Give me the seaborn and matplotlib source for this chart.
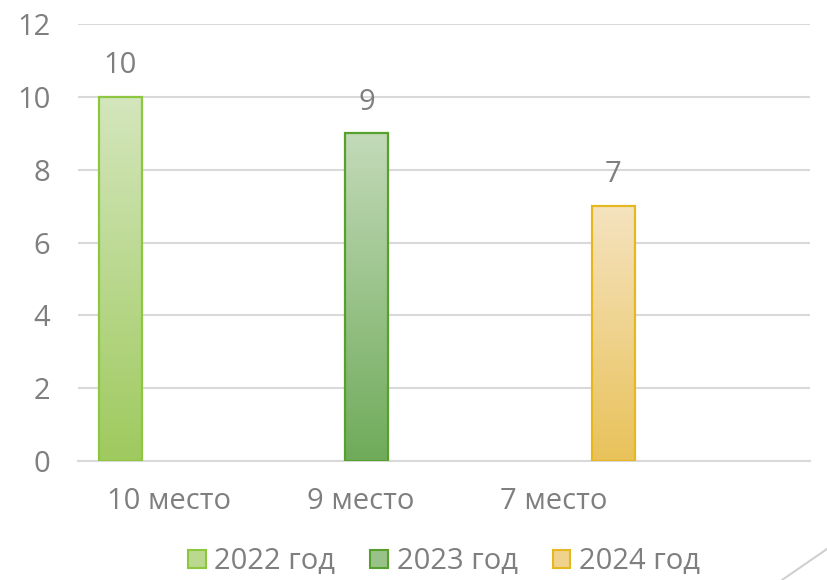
import matplotlib
matplotlib.use("Agg")
import matplotlib.pyplot as plt
import matplotlib.colors as mcolors
from matplotlib.patches import Patch
from matplotlib.lines import Line2D
import numpy as np
import pandas as pd
import seaborn as sns

places = ["10 место", "9 место", "7 место"]
years = ["2022 год", "2023 год", "2024 год"]
values = [10, 9, 7]

# gradient colours: top, bottom, edge
tops = ["#d4e6bd", "#c3dab9", "#f5e3bf"]
bottoms = ["#9fca5e", "#6fab5a", "#e9c25a"]
edges = ["#8dc63f", "#56a02b", "#e6b820"]

df = pd.DataFrame({"place": places, "year": years, "value": values})

sns.set_style("white")
plt.rcParams["font.family"] = ["Open Sans", "DejaVu Sans"]
grey = "#7f7f7f"
fs = 21

fig = plt.figure(figsize=(8.27, 5.8), dpi=100)
ax = fig.add_axes([78 / 827, 1 - 461 / 580, (810 - 78) / 827, (461 - 24) / 580])

sns.barplot(data=df, x="place", y="value", hue="year", order=places,
            hue_order=years, width=0.636, dodge=True, legend=False, ax=ax,
            palette=edges)

ax.set_yticks(range(0, 13, 2))
ax.grid(axis="y", color="#d9d9d9", linewidth=1.5)
ax.set_axisbelow(True)
for s in ["top", "right", "left"]:
    ax.spines[s].set_visible(False)
ax.spines["bottom"].set_color("#d9d9d9")
ax.spines["bottom"].set_linewidth(1.5)
ax.tick_params(axis="y", length=0, pad=20, labelsize=fs, labelcolor=grey)
ax.tick_params(axis="x", length=0, pad=19, labelsize=fs, labelcolor=grey)
ax.set_xlabel("")
ax.set_ylabel("")

# gradient fill inside each bar
for i, cont in enumerate(ax.containers):
    cmap = mcolors.LinearSegmentedColormap.from_list("g%d" % i, [bottoms[i], tops[i]])
    grad = np.linspace(0, 1, 256).reshape(-1, 1)
    for bar in cont:
        x0, y0 = bar.get_x(), bar.get_y()
        w, h = bar.get_width(), bar.get_height()
        if np.isnan(h) or h == 0:
            continue
        bar.set_facecolor("none")
        bar.set_edgecolor(edges[i])
        bar.set_linewidth(1.6)
        bar.set_zorder(3)
        im = ax.imshow(grad, cmap=cmap, origin="lower", aspect="auto",
                       extent=[x0, x0 + w, y0, y0 + h], zorder=2)
        im.set_clip_path(bar)
    ax.bar_label(cont, fmt="%d", padding=12, fontsize=fs, color=grey)

ax.set_xlim(-0.42, 3.18)
ax.set_ylim(0, 12)
# category labels sit a little off the group centres in the original
ax.set_xticks([0.027, 0.97, 1.917], places)

handles = [Patch(facecolor=mcolors.to_hex(np.mean([mcolors.to_rgb(tops[i]), mcolors.to_rgb(bottoms[i])], axis=0)),
                 edgecolor=edges[i], linewidth=1.5, label=years[i]) for i in range(3)]
fig.legend(handles=handles, loc="center", bbox_to_anchor=(444 / 827, 1 - 562 / 580),
           ncol=3, frameon=False, fontsize=fs, labelcolor=grey,
           handlelength=0.6, handleheight=0.6, handletextpad=0.3, columnspacing=1.2)

# decorative corner line
fig.add_artist(Line2D([782 / 827, 1.0], [0.0, 1 - 549 / 580], transform=fig.transFigure,
                      color="#d0d0d0", linewidth=1.5))

fig.savefig("out.png", dpi=100)
